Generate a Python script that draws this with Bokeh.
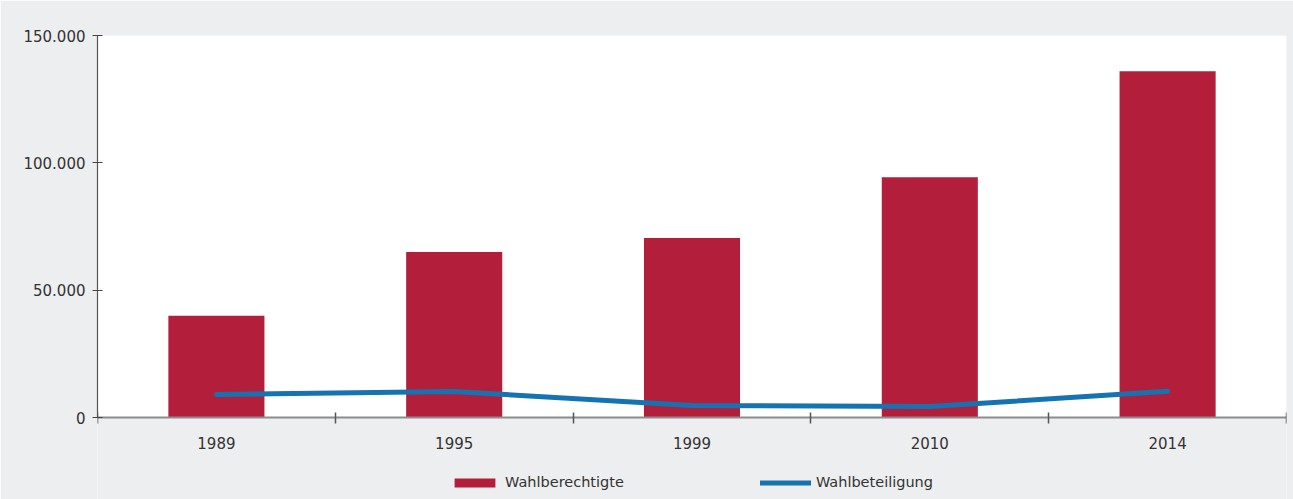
from bokeh.plotting import figure
from bokeh.models import Range1d, FixedTicker, Legend, LegendItem, BoxAnnotation
from bokeh.embed import file_html
from bokeh.resources import INLINE

years = ["1989", "1995", "1999", "2010", "2014"]
wahlberechtigte = [40000, 65000, 70500, 94300, 136000]
wahlbeteiligung = [9000, 10200, 4700, 4300, 10300]
y_ticks = [0, 50000, 100000, 150000]
y_labels = ["0", "50.000", "100.000", "150.000"]

BG = "#EDEEF0"
RED = "#B31F3B"
BLUE = "#1673B1"
FONT = "DejaVu Sans"

Y_MAX = 150000
# frame spans 464 px, value axis occupies the top 382 px of it
y_min = -Y_MAX * 82 / 382

xs = [i + 0.5 for i in range(len(years))]

p = figure(output_backend="svg", toolbar_location=None,
           width=1293, height=499,
           x_range=Range1d(0, len(years)), y_range=Range1d(y_min, Y_MAX),
           min_border_left=97, min_border_right=7, min_border_top=35, min_border_bottom=0)
p.background_fill_color = BG
p.border_fill_color = BG
p.outline_line_color = None
p.grid.visible = False

p.add_layout(BoxAnnotation(bottom=0, top=Y_MAX, fill_color="white", fill_alpha=1,
                           line_color=None, level="underlay"))

bars = p.vbar(x=xs, top=wahlberechtigte, width=0.404, color=RED, line_color=None)
line = p.line(x=xs, y=wahlbeteiligung, line_color=BLUE, line_width=5, line_cap="round", line_join="round")

# x axis
xa = p.xaxis[0]
xa.fixed_location = 0
xa.bounds = (0, len(years))
xa.ticker = FixedTicker(ticks=xs, minor_ticks=list(range(len(years) + 1)))
xa.major_label_overrides = {x: y for x, y in zip(xs, years)}
xa.major_tick_in = 0
xa.major_tick_out = 0
xa.minor_tick_in = 5
xa.minor_tick_out = 6
xa.minor_tick_line_color = "#555555"
xa.minor_tick_line_width = 1.5
xa.axis_line_color = "#8C8C8C"
xa.axis_line_width = 2
xa.major_label_text_font = FONT
xa.major_label_text_font_size = "15px"
xa.major_label_text_color = "#333333"
xa.major_label_standoff = 13

# y axis
ya = p.yaxis[0]
ya.bounds = (0, Y_MAX)
ya.ticker = FixedTicker(ticks=y_ticks, minor_ticks=[])
ya.major_label_overrides = {t: l for t, l in zip(y_ticks, y_labels)}
ya.major_tick_in = 5
ya.major_tick_out = 5
ya.major_tick_line_color = "#444444"
ya.axis_line_color = "#555555"
ya.axis_line_width = 1.2
ya.major_label_text_font = FONT
ya.major_label_text_font_size = "15px"
ya.major_label_text_color = "#333333"
ya.major_label_standoff = 7

legend = Legend(items=[LegendItem(label="Wahlberechtigte", renderers=[bars]),
                       LegendItem(label="Wahlbeteiligung", renderers=[line])],
                orientation="horizontal", location=(352, 9),
                glyph_width=51, glyph_height=11, label_standoff=5, spacing=136,
                label_text_font=FONT, label_text_font_size="14.5px", label_text_color="#333333",
                background_fill_alpha=0, border_line_color=None,
                padding=2, margin=0)
p.add_layout(legend, "center")

open("out.html", "w").write(file_html(p, INLINE))
